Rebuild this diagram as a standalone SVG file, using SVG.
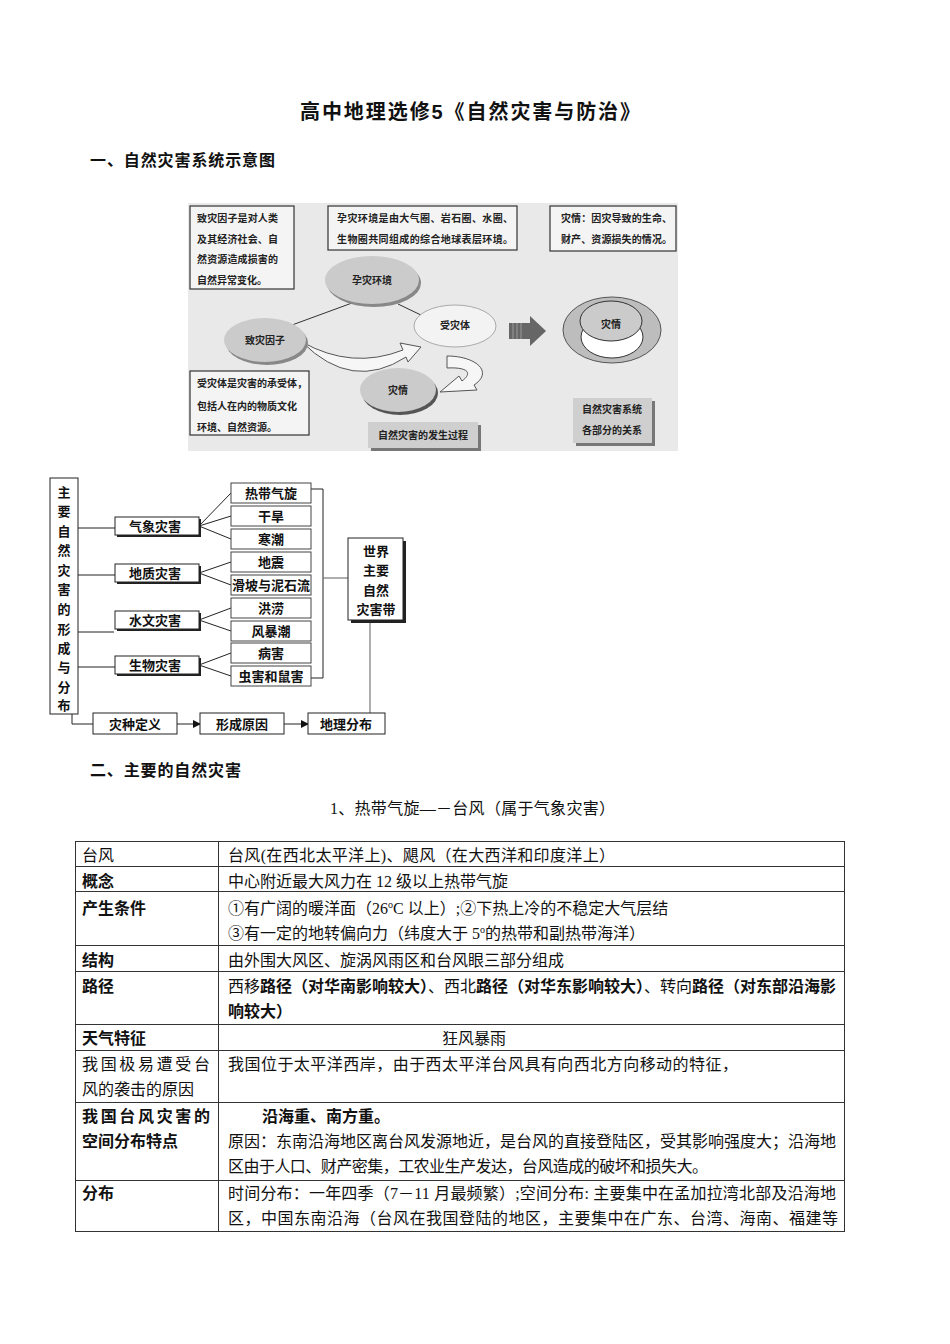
<svg xmlns="http://www.w3.org/2000/svg" width="950" height="1344" viewBox="0 0 950 1344">
<style>
.t{font-family:"Liberation Serif","Noto Sans CJK SC",serif;fill:#111}
.b{font-family:"Liberation Sans","Noto Sans CJK SC",sans-serif;font-weight:bold;fill:#111}
.k{font-family:"Noto Sans CJK SC",sans-serif;font-weight:bold;font-size:10px;fill:#222}
.f{font-family:"Liberation Serif","Noto Sans CJK SC",serif;font-weight:bold;font-size:13px;fill:#111;text-anchor:middle}
.bx{fill:#fff;stroke:#222;stroke-width:1}
.ib{fill:#fff;stroke:#444;stroke-width:1}
.ln{stroke:#222;stroke-width:1;fill:none}
.gl{stroke:#777;stroke-width:1.2;fill:none}
.tb{stroke:#333;stroke-width:1;fill:none}
</style>
<defs>
<marker id="ah" markerWidth="8" markerHeight="8" refX="7" refY="4" orient="auto" markerUnits="userSpaceOnUse">
<path d="M0,0 L8,4 L0,8 Z" fill="#111"/>
</marker>
</defs>

<text class="b" x="300" y="119" font-size="20" textLength="340">高中地理选修5《自然灾害与防治》</text>
<text class="b" x="90" y="166" font-size="16" textLength="185">一、自然灾害系统示意图</text>

<!-- top illustration -->
<g id="illustration">
<rect x="188" y="203" width="490" height="248" fill="#e9e9e9"/>
<g id="box-zhizai-def">
<rect x="190" y="206" width="104" height="83" fill="#f4f4f4" stroke="#333" stroke-width="1.2"/>
<text class="k" x="197" y="222" textLength="81">致灾因子是对人类</text>
<text class="k" x="197" y="243" textLength="81">及其经济社会、自</text>
<text class="k" x="197" y="263" textLength="81">然资源造成损害的</text>
<text class="k" x="197" y="284">自然异常变化。</text>
</g>
<g id="box-yunzai-def">
<rect x="328" y="206" width="189" height="44" fill="#f4f4f4" stroke="#333" stroke-width="1.2"/>
<text class="k" x="337" y="222" textLength="176">孕灾环境是由大气圈、岩石圈、水圈、</text>
<text class="k" x="337" y="243" textLength="176">生物圈共同组成的综合地球表层环境。</text>
</g>
<g id="box-zaiqing-def">
<rect x="550" y="206" width="126" height="45" fill="#f4f4f4" stroke="#333" stroke-width="1.2"/>
<text class="k" x="561" y="222" textLength="111">灾情：因灾导致的生命、</text>
<text class="k" x="561" y="243" textLength="111">财产、资源损失的情况。</text>
</g>
<g id="conn-illus">
<line x1="292" y1="325" x2="352" y2="303" stroke="#333" stroke-width="1"/>
<line x1="398" y1="304" x2="423" y2="316" stroke="#333" stroke-width="1"/>
<path d="M302 342 Q352 370 403 350 L400 343 L421 347 L408 362 L406 357 Q352 392 302 342 Z" fill="#f6f6f6" stroke="#555" stroke-width="1"/>
<path d="M447 356 C476 356 494 372 474 385 L477 390 L440 392 L459 376 L462 381 C474 372 466 367 447 368 Z" fill="#f6f6f6" stroke="#555" stroke-width="1"/>
<rect x="509" y="323" width="22" height="16" fill="#666"/>
<line x1="513" y1="323" x2="513" y2="339" stroke="#999" stroke-width="1"/>
<line x1="517" y1="323" x2="517" y2="339" stroke="#999" stroke-width="1"/>
<line x1="521" y1="323" x2="521" y2="339" stroke="#999" stroke-width="1"/>
<path d="M530 316 L546 331 L530 346 Z" fill="#666"/>
</g>
<g id="node-yunzai">
<ellipse cx="374" cy="283" rx="47" ry="24" fill="#888"/>
<ellipse cx="372" cy="280" rx="47" ry="24" fill="#cbcbcb"/>
<text class="k" x="372" y="284" text-anchor="middle">孕灾环境</text>
</g>
<g id="node-zhizai">
<ellipse cx="267" cy="343" rx="41" ry="22" fill="#888"/>
<ellipse cx="265" cy="340" rx="41" ry="22" fill="#cbcbcb"/>
<text class="k" x="265" y="344" text-anchor="middle">致灾因子</text>
</g>
<g id="node-shouzai">
<ellipse cx="455" cy="326" rx="41" ry="21" fill="#f3f3f3" stroke="#aaa" stroke-width="1"/>
<text class="k" x="455" y="329" text-anchor="middle">受灾体</text>
</g>
<g id="node-zaiqing">
<ellipse cx="400" cy="393" rx="38" ry="22" fill="#555"/>
<ellipse cx="398" cy="390" rx="38" ry="22" fill="#cbcbcb"/>
<text class="k" x="398" y="394" text-anchor="middle">灾情</text>
</g>
<g id="node-system">
<ellipse cx="612" cy="330" rx="49" ry="33" fill="#bdbdbd" stroke="#555" stroke-width="1"/>
<ellipse cx="612" cy="337" rx="31" ry="21" fill="#fff" stroke="#333" stroke-width="1"/>
<ellipse cx="611" cy="321" rx="31" ry="20" fill="#cbcbcb" stroke="#333" stroke-width="1"/>
<text class="k" x="611" y="328" text-anchor="middle">灾情</text>
</g>
<g id="box-shouzai-def">
<rect x="190" y="371" width="119" height="64" fill="#f4f4f4" stroke="#333" stroke-width="1.2"/>
<text class="k" x="197" y="387" textLength="110">受灾体是灾害的承受体，</text>
<text class="k" x="197" y="410" textLength="100">包括人在内的物质文化</text>
<text class="k" x="197" y="431">环境、自然资源。</text>
</g>
<g id="box-process">
<rect x="371" y="425" width="110" height="26" fill="#777"/>
<rect x="368" y="422" width="110" height="26" fill="#cfcfcf"/>
<text class="k" x="423" y="439" text-anchor="middle">自然灾害的发生过程</text>
</g>
<g id="box-relation">
<rect x="576" y="401" width="79" height="45" fill="#777"/>
<rect x="573" y="398" width="79" height="45" fill="#cfcfcf"/>
<text class="k" x="612" y="413" text-anchor="middle">自然灾害系统</text>
<text class="k" x="612" y="434" text-anchor="middle">各部分的关系</text>
</g>
</g>

<!-- flow chart -->
<g id="connectors">
<line class="ln" x1="78" y1="528" x2="115" y2="528"/>
<line class="ln" x1="78" y1="575" x2="115" y2="575"/>
<line class="ln" x1="78" y1="632" x2="114" y2="632"/>
<line class="ln" x1="78" y1="667" x2="115" y2="667"/>
<line class="ln" x1="199" y1="526" x2="231" y2="493"/>
<line class="ln" x1="199" y1="526" x2="231" y2="516"/>
<line class="ln" x1="199" y1="526" x2="231" y2="539"/>
<line class="ln" x1="199" y1="573" x2="231" y2="562"/>
<line class="ln" x1="199" y1="573" x2="231" y2="585"/>
<line class="ln" x1="199" y1="620" x2="231" y2="608"/>
<line class="ln" x1="199" y1="620" x2="231" y2="631"/>
<line class="ln" x1="199" y1="665" x2="231" y2="653"/>
<line class="ln" x1="199" y1="665" x2="231" y2="676"/>
<path class="ln" d="M311 489 H323 V678 H311"/>
<line class="gl" x1="323" y1="578" x2="348" y2="578"/>
<line class="gl" x1="370" y1="621" x2="370" y2="713"/>
<path class="ln" d="M72 714 V724 H93"/>
<line class="ln" x1="177" y1="724" x2="200" y2="724" marker-end="url(#ah)"/>
<line class="ln" x1="284" y1="724" x2="308" y2="724" marker-end="url(#ah)"/>
</g>

<g id="node-main">
<rect class="bx" x="50" y="478" width="28" height="236"/>
<g class="f">
<text x="64" y="497">主</text><text x="64" y="516">要</text><text x="64" y="536">自</text><text x="64" y="555">然</text><text x="64" y="575">灾</text><text x="64" y="594">害</text><text x="64" y="614">的</text><text x="64" y="634">形</text><text x="64" y="653">成</text><text x="64" y="672">与</text><text x="64" y="692">分</text><text x="64" y="710">布</text>
</g>
</g>

<g id="node-qixiang"><rect x="117" y="519" width="84" height="18" fill="#222"/><rect class="bx" x="115" y="517" width="84" height="18"/><text class="f" x="155" y="531">气象灾害</text></g>
<g id="node-dizhi"><rect x="117" y="566" width="84" height="18" fill="#222"/><rect class="bx" x="115" y="564" width="84" height="18"/><text class="f" x="155" y="578">地质灾害</text></g>
<g id="node-shuiwen"><rect x="117" y="613" width="84" height="18" fill="#222"/><rect class="bx" x="115" y="611" width="84" height="18"/><text class="f" x="155" y="625">水文灾害</text></g>
<g id="node-shengwu"><rect x="117" y="658" width="84" height="18" fill="#222"/><rect class="bx" x="115" y="656" width="84" height="18"/><text class="f" x="155" y="670">生物灾害</text></g>

<g id="node-i1"><rect class="ib" x="231" y="483" width="80" height="20"/><text class="f" x="271" y="498">热带气旋</text></g>
<g id="node-i2"><rect class="ib" x="231" y="506" width="80" height="20"/><text class="f" x="271" y="521">干旱</text></g>
<g id="node-i3"><rect class="ib" x="231" y="529" width="80" height="20"/><text class="f" x="271" y="544">寒潮</text></g>
<g id="node-i4"><rect class="ib" x="231" y="552" width="80" height="20"/><text class="f" x="271" y="567">地震</text></g>
<g id="node-i5"><rect class="ib" x="231" y="575" width="80" height="20"/><text class="f" x="271" y="590">滑坡与泥石流</text></g>
<g id="node-i6"><rect class="ib" x="231" y="598" width="80" height="20"/><text class="f" x="271" y="613">洪涝</text></g>
<g id="node-i7"><rect class="ib" x="231" y="621" width="80" height="20"/><text class="f" x="271" y="636">风暴潮</text></g>
<g id="node-i8"><rect class="ib" x="231" y="643" width="80" height="20"/><text class="f" x="271" y="658">病害</text></g>
<g id="node-i9"><rect class="ib" x="231" y="666" width="80" height="20"/><text class="f" x="271" y="681">虫害和鼠害</text></g>

<g id="node-world">
<rect x="351" y="541" width="55" height="82" fill="#222"/>
<rect class="bx" x="348" y="538" width="55" height="82"/>
<text class="f" x="376" y="556">世界</text>
<text class="f" x="376" y="575">主要</text>
<text class="f" x="376" y="595">自然</text>
<text class="f" x="376" y="614">灾害带</text>
</g>
<g id="node-def"><rect class="bx" x="93" y="713" width="84" height="21"/><text class="f" x="135" y="729">灾种定义</text></g>
<g id="node-cause"><rect class="bx" x="200" y="713" width="84" height="21"/><text class="f" x="242" y="729">形成原因</text></g>
<g id="node-geo"><rect class="bx" x="308" y="713" width="77" height="21"/><text class="f" x="346" y="729">地理分布</text></g>

<text class="b" x="90" y="776" font-size="16" textLength="151">二、主要的自然灾害</text>
<text class="t" x="330" y="814" font-size="16" textLength="285">1、热带气旋—－台风（属于气象灾害）</text>

<!-- table -->
<g id="table">
<rect class="tb" x="75.5" y="841.5" width="769" height="390"/>
<line class="tb" x1="218.5" y1="841" x2="218.5" y2="1231"/>
<line class="tb" x1="75" y1="866.5" x2="845" y2="866.5"/>
<line class="tb" x1="75" y1="891.5" x2="845" y2="891.5"/>
<line class="tb" x1="75" y1="945.5" x2="845" y2="945.5"/>
<line class="tb" x1="75" y1="971.5" x2="845" y2="971.5"/>
<line class="tb" x1="75" y1="1024.5" x2="845" y2="1024.5"/>
<line class="tb" x1="75" y1="1050.5" x2="845" y2="1050.5"/>
<line class="tb" x1="75" y1="1102.5" x2="845" y2="1102.5"/>
<line class="tb" x1="75" y1="1180.5" x2="845" y2="1180.5"/>

<text class="t" x="82" y="861" font-size="16">台风</text>
<text class="t" x="228" y="861" font-size="16" textLength="387">台风(在西北太平洋上)、飓风（在大西洋和印度洋上）</text>

<text class="b" x="82" y="887" font-size="16">概念</text>
<text class="t" x="228" y="887" font-size="16">中心附近最大风力在 12 级以上热带气旋</text>

<text class="b" x="82" y="914" font-size="16">产生条件</text>
<text class="t" x="228" y="914" font-size="16">①有广阔的暖洋面（26<tspan font-size="10" dy="-6">o</tspan><tspan dy="6">C 以上）;②下热上冷的不稳定大气层结</tspan></text>
<text class="t" x="228" y="939" font-size="16">③有一定的地转偏向力（纬度大于 5<tspan font-size="10" dy="-6">o</tspan><tspan dy="6">的热带和副热带海洋）</tspan></text>

<text class="b" x="82" y="966" font-size="16">结构</text>
<text class="t" x="228" y="966" font-size="16">由外围大风区、旋涡风雨区和台风眼三部分组成</text>

<text class="b" x="82" y="992" font-size="16">路径</text>
<text class="t" x="228" y="992" font-size="16" textLength="608">西移<tspan class="b">路径（对华南影响较大）</tspan>、西北<tspan class="b">路径（对华东影响较大）</tspan>、转向<tspan class="b">路径（对东部沿海影</tspan></text>
<text class="b" x="228" y="1017" font-size="16">响较大）</text>

<text class="b" x="82" y="1044" font-size="16">天气特征</text>
<text class="t" x="474" y="1044" font-size="16" text-anchor="middle">狂风暴雨</text>

<text class="t" x="82" y="1070" font-size="16" textLength="128">我国极易遭受台</text>
<text class="t" x="82" y="1095" font-size="16">风的袭击的原因</text>
<text class="t" x="228" y="1070" font-size="16" textLength="510">我国位于太平洋西岸，由于西太平洋台风具有向西北方向移动的特征，</text>

<text class="b" x="82" y="1122" font-size="16" textLength="128">我国台风灾害的</text>
<text class="b" x="82" y="1147" font-size="16">空间分布特点</text>
<text class="b" x="262" y="1122" font-size="16">沿海重、南方重<tspan class="t">。</tspan></text>
<text class="t" x="228" y="1147" font-size="16" textLength="608">原因：东南沿海地区离台风发源地近，是台风的直接登陆区，受其影响强度大；沿海地</text>
<text class="t" x="228" y="1172" font-size="16" textLength="480">区由于人口、财产密集，工农业生产发达，台风造成的破坏和损失大。</text>

<text class="b" x="82" y="1199" font-size="16">分布</text>
<text class="t" x="228" y="1199" font-size="16" textLength="608">时间分布：一年四季（7－11 月最频繁）;空间分布: 主要集中在孟加拉湾北部及沿海地</text>
<text class="t" x="228" y="1224" font-size="16" textLength="610">区，中国东南沿海（台风在我国登陆的地区，主要集中在广东、台湾、海南、福建等</text>
</g>
</svg>
